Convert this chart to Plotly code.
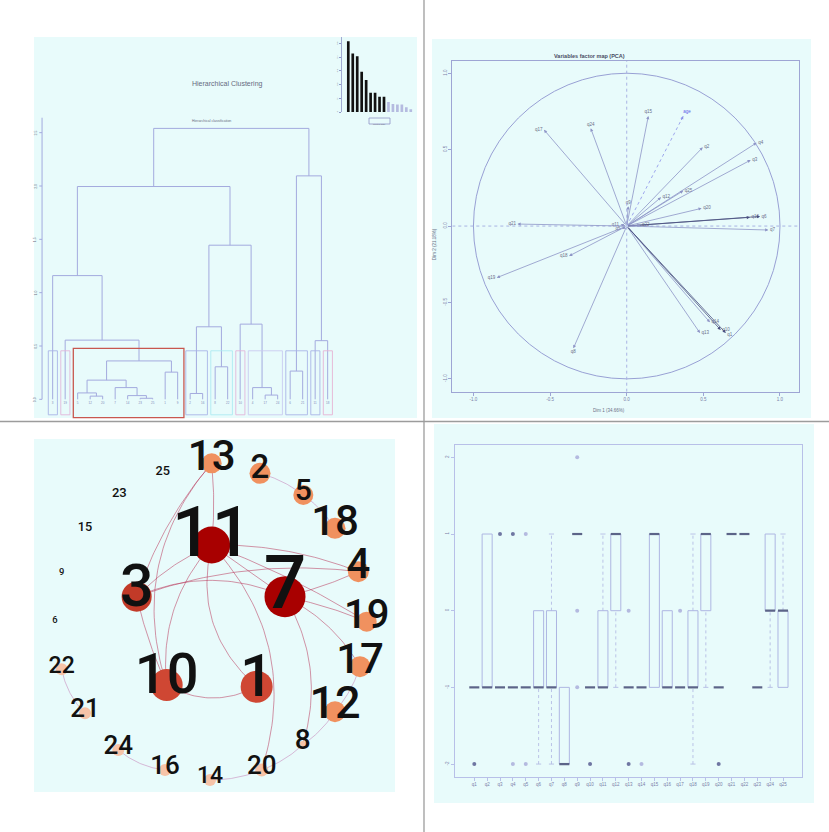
import numpy as np
import plotly.graph_objects as go

W, H = 829, 832
def fx(p): return p / W
def fy(p): return 1 - p / H

CYAN = "#e8fbfb"
DLINE = "#a3aade"
TXT = "#6b6f86"
FONT = "Liberation Sans"

# ---------------- data: hierarchical clustering ----------------
leaf_labels = ["3","19","5","12","20","7","14","23","25","1","9","2","16","8","22","10","4","17","24","6","21","11","18"]
merge_left  = [3, 2, 7, 6, 5, 24, 9, 28, 1, 0, 11, 13, 33, 17, 16, 15, 35, 32, 19, 21, 41, 40]
merge_right = [4, 23, 8, 25, 26, 27, 10, 29, 30, 31, 12, 14, 34, 18, 36, 37, 38, 39, 20, 22, 42, 43]
merge_height = [0.03, 0.06, 0.01, 0.035, 0.11, 0.18, 0.255, 0.36, 0.555, 1.16, 0.055, 0.305,
                0.68, 0.04, 0.11, 0.705, 1.445, 1.995, 0.265, 0.55, 2.095, 2.54]
cluster_first = [0, 1, 2, 11, 13, 15, 16, 19, 21, 22]
cluster_last  = [0, 1, 10, 12, 14, 15, 18, 20, 21, 22]
dendro_ticks = [0, 0.5, 1.0, 1.5, 2.0, 2.5]
dendro_ticklabels = ["0.0", "0.5", "1.0", "1.5", "2.0", "2.5"]

inertia_gain = [0.517, 0.427, 0.407, 0.295, 0.234, 0.141, 0.141, 0.112, 0.112,
                0.073, 0.059, 0.054, 0.054, 0.034, 0.020]
n_dark_bars = 9
inset_ticks = [0, 0.1, 0.2, 0.3, 0.4, 0.5]

# ---------------- data: PCA variables ----------------
pca_vars = ["q17","q24","q15","q2","q4","q3","q25","q12","q9","q20","q16","q6","q7",
            "q21","q18","q19","q8","q13","q14","q10","q1","q11","q5","q22"]
dim1 = [-0.54,-0.235,0.141,0.496,0.848,0.809,0.369,0.224,0.01,0.489,0.804,0.87,0.924,
        -0.713,-0.376,-0.848,-0.348,0.478,0.543,0.613,0.646,-0.04,-0.03,0.09]
dim2 = [0.63,0.64,0.72,0.515,0.545,0.432,0.231,0.188,0.13,0.116,0.057,0.063,-0.026,
        0.013,-0.196,-0.338,-0.80,-0.70,-0.63,-0.68,-0.70,0.01,-0.02,0.005]
sup_var = "age"
sup_dim1, sup_dim2 = 0.369, 0.72
dark_vars = {"q16", "q6", "q1", "q10"}
pca_ticks = [-1.0, -0.5, 0.0, 0.5, 1.0]
pca_ticklabels = ["-1.0", "-0.5", "0.0", "0.5", "1.0"]

# ---------------- data: network ----------------
node_id = [str(i) for i in range(1, 26)]
node_x = [680,690,320,985,820,75,765,818,95,410,545,915,545,540,165,405,990,915,1010,695,165,95,268,265,398]
node_y = [770,130,500,425,195,575,500,945,430,765,345,845,100,1050,298,1020,710,295,575,1020,850,718,195,960,128]
node_class = ["mid","orange","mid2","orange","orange","none","dark","pale","none","mid","dark","orange",
              "orange","pale","none","pale","orange","orange","orange","pale","pale","pale","none","pale","none"]
strong_edges = [(11,13),(13,3),(13,10),(11,4),(11,3),(3,7),(3,4),(11,7),(11,19),(11,10),(11,1),
                (11,20),(10,1),(3,10),(7,19),(7,17),(7,8),(7,4)]
weak_edges = [(2,5),(5,18),(17,12),(12,8),(8,20),(20,14),(16,24),(22,21)]

# ---------------- data: boxplot ----------------
questions = ["q%d" % i for i in range(1, 26)]
whisk_lo = [-1,-1,-1,-1,-1,-2,-2,-2, 1,-1,-1,-1,-1,-1,-1,-1,-1,-2,-1,-1, 1, 1,-1,-1,-1]
hinge_lo = [-1,-1,-1,-1,-1,-1,-1,-2, 1,-1,-1, 0,-1,-1,-1,-1,-1,-1, 0,-1, 1, 1,-1, 0,-1]
medians  = [-1,-1,-1,-1,-1,-1,-1,-2, 1,-1,-1, 1,-1,-1, 1,-1,-1,-1, 1,-1, 1, 1,-1, 0, 0]
hinge_hi = [-1, 1,-1,-1,-1, 0, 0,-1, 1,-1, 0, 1,-1,-1, 1, 0,-1, 0, 1,-1, 1, 1,-1, 1, 0]
whisk_hi = [-1, 1,-1,-1,-1, 0, 1,-1, 1,-1, 1, 1,-1,-1, 1, 0,-1, 1, 1,-1, 1, 1,-1, 1, 1]
out_q   = [1, 3, 4, 4, 5, 5, 9, 9, 9, 10, 13, 13, 14, 17, 20]
out_val = [-2, 1, 1, -2, 1, -2, 2, 0, -1, -2, 0, -2, -2, 0, -2]
out_n   = [3, 2, 3, 1, 1, 1, 1, 1, 1, 3, 1, 3, 1, 1, 3]
box_yticks = [-2, -1, 0, 1, 2]

fig = go.Figure()
shapes, annos = [], []

# panel backgrounds
for (x0, y0, x1, y1) in [(34, 37, 417, 418), (432, 39, 811, 418), (34, 439, 395, 792), (434, 424, 814, 803)]:
    shapes.append(dict(type="rect", xref="paper", yref="paper", x0=fx(x0), x1=fx(x1), y0=fy(y1), y1=fy(y0),
                       fillcolor=CYAN, line_width=0, layer="below"))
shapes.append(dict(type="line", xref="paper", yref="paper", x0=fx(424), x1=fx(424), y0=0, y1=1,
                   line=dict(color="#9c9c9c", width=1.3)))
shapes.append(dict(type="line", xref="paper", yref="paper", x0=0, x1=1, y0=fy(421.5), y1=fy(421.5),
                   line=dict(color="#9c9c9c", width=1.3)))

# ================= TL: dendrogram =================
n_leaves = len(leaf_labels)
pos = list(range(n_leaves)); hgt = [0.0] * n_leaves
dx, dy = [], []
for a, b, h in zip(merge_left, merge_right, merge_height):
    dx += [pos[a], pos[a], pos[b], pos[b], None]
    dy += [hgt[a], h, h, hgt[b], None]
    pos.append((pos[a] + pos[b]) / 2); hgt.append(h)
fig.add_trace(go.Scatter(x=dx, y=dy, mode="lines", line=dict(color=DLINE, width=1),
                         xaxis="x", yaxis="y", hoverinfo="skip", showlegend=False))
fig.add_trace(go.Scatter(x=list(range(n_leaves)), y=[-0.035] * n_leaves, mode="text", text=leaf_labels,
                         textfont=dict(size=3, color="#8088b8", family=FONT),
                         xaxis="x", yaxis="y", hoverinfo="skip", showlegend=False))
clu_colors = ["#a9b4e6", "#e2b6da", "#c8574f", "#a9b4e6", "#aeeaf2", "#e2b6da", "#c9cbf1", "#a9b4e6", "#a9b4e6", "#e6b2d4"]
for k, (s, e) in enumerate(zip(cluster_first, cluster_last)):
    red = (e - s > 5)
    shapes.append(dict(type="rect", xref="x", yref="y",
                       x0=s - 0.35, x1=e + (0.5 if red else 0.38),
                       y0=-0.172 if red else -0.145, y1=0.478 if red else 0.455,
                       line=dict(color=clu_colors[k], width=1.3 if red else 0.9), fillcolor="rgba(0,0,0,0)"))
ax_x = -0.85
tx, ty = [ax_x, ax_x, None], [0, 2.64, None]
for t in dendro_ticks:
    tx += [ax_x, ax_x - 0.22, None]; ty += [t, t, None]
fig.add_trace(go.Scatter(x=tx, y=ty, mode="lines", line=dict(color=DLINE, width=1),
                         xaxis="x", yaxis="y", hoverinfo="skip", showlegend=False))
for t, lab in zip(dendro_ticks, dendro_ticklabels):
    annos.append(dict(x=ax_x - 0.5, y=t, xref="x", yref="y", text=lab, showarrow=False, textangle=-90,
                      font=dict(size=3.5, color=TXT, family=FONT)))
annos.append(dict(x=fx(190), y=fy(78), xref="paper", yref="paper", text="Hierarchical Clustering",
                  showarrow=False, font=dict(size=7, color="#666a80", family=FONT)))
annos.append(dict(x=fx(190), y=fy(117), xref="paper", yref="paper", text="Hierarchical classification",
                  showarrow=False, font=dict(size=3.5, color="#666a80", family=FONT)))

bar_cols = ["#111111"] * n_dark_bars + ["#b5bbe0"] * (len(inertia_gain) - n_dark_bars)
fig.add_trace(go.Bar(x=list(range(1, len(inertia_gain) + 1)), y=inertia_gain, marker=dict(color=bar_cols, line_width=0),
                     width=0.6, xaxis="x2", yaxis="y2", hoverinfo="skip", showlegend=False))
shapes.append(dict(type="rect", xref="paper", yref="paper", x0=fx(369), x1=fx(390), y0=fy(124), y1=fy(118),
                   line=dict(color="#8f96c8", width=0.8)))
annos.append(dict(x=fx(379.5), y=fy(121), xref="paper", yref="paper", text="inertia gain", showarrow=False,
                  font=dict(size=2.5, color=TXT, family=FONT)))

# ================= TR: PCA =================
PCOL = "#8d94c6"
for v, a, b in zip(pca_vars, dim1, dim2):
    col = "#4a5080" if v in dark_vars else PCOL
    annos.append(dict(x=a, y=b, ax=0, ay=0, xref="x3", yref="y3", axref="x3", ayref="y3", text="",
                      showarrow=True, arrowhead=2, arrowsize=0.8, arrowwidth=0.8, arrowcolor=col))
fig.add_trace(go.Scatter(x=[0, sup_dim1], y=[0, sup_dim2], mode="lines", line=dict(color="#8a90e8", width=0.8, dash="dot"),
                         xaxis="x3", yaxis="y3", hoverinfo="skip", showlegend=False))
annos.append(dict(x=sup_dim1, y=sup_dim2, ax=sup_dim1 * 0.95, ay=sup_dim2 * 0.95, xref="x3", yref="y3",
                  axref="x3", ayref="y3", text="", showarrow=True, arrowhead=2, arrowsize=0.8,
                  arrowwidth=0.8, arrowcolor="#8a90e8"))
label_pos_override = {"q1": "bottom right"}
lx, ly, lpos = [], [], []
for v, a, b in zip(pca_vars, dim1, dim2):
    th = np.arctan2(b, a)
    if np.cos(th) > 0.5:
        lx.append(a + 0.01); ly.append(b); lpos.append("middle right")
    elif np.cos(th) < -0.5:
        lx.append(a - 0.01); ly.append(b); lpos.append("middle left")
    elif np.sin(th) > 0:
        lx.append(a); ly.append(b + 0.01); lpos.append("top center")
    else:
        lx.append(a); ly.append(b - 0.01); lpos.append("bottom center")
    if v in label_pos_override:
        lpos[-1] = label_pos_override[v]
fig.add_trace(go.Scatter(x=lx, y=ly, mode="text", text=pca_vars, textposition=lpos,
                         textfont=dict(size=4.5, color="#6a6e88", family=FONT),
                         xaxis="x3", yaxis="y3", hoverinfo="skip", showlegend=False))
fig.add_trace(go.Scatter(x=[sup_dim1], y=[sup_dim2 + 0.01], mode="text", text=[sup_var], textposition="top right",
                         textfont=dict(size=4.5, color="#5a5ae8", family=FONT),
                         xaxis="x3", yaxis="y3", hoverinfo="skip", showlegend=False))
shapes.append(dict(type="circle", xref="x3", yref="y3", x0=-1, x1=1, y0=-1, y1=1,
                   line=dict(color="#98a0d4", width=1)))
shapes.append(dict(type="line", xref="x3", yref="y3", x0=0, x1=0, y0=-1.084, y1=1.082,
                   line=dict(color="#a2aae0", width=0.9, dash="dot")))
shapes.append(dict(type="line", xref="x3", yref="y3", x0=-1.138, x1=1.124, y0=0, y1=0,
                   line=dict(color="#a2aae0", width=0.9, dash="dot")))
annos.append(dict(x=fx(626.7), y=fy(50.7), xref="paper", yref="paper", text="<b>Variables factor map (PCA)</b>",
                  showarrow=False, font=dict(size=5.5, color="#4a4d63", family=FONT)))
annos.append(dict(x=fx(626.7), y=fy(410), xref="paper", yref="paper", text="Dim 1 (34.66%)",
                  showarrow=False, font=dict(size=4.5, color=TXT, family=FONT)))
annos.append(dict(x=fx(434), y=fy(226), xref="paper", yref="paper", text="Dim 2 (21.18%)", textangle=-90,
                  showarrow=False, font=dict(size=4.5, color=TXT, family=FONT)))

# ================= BL: network =================
class_color = {"dark": "#a80000", "mid": "#cf4733", "mid2": "#c23a28", "orange": "#f0915f", "pale": "#f6c3a8",
               "none": "rgba(0,0,0,0)"}
node_diam = [32, 21, 30, 21, 20, 0, 41, 8, 0, 32, 37, 21, 20, 12, 0, 12, 21, 21, 20, 13, 12, 12, 0, 12, 0]
label_size = [59, 33, 59, 42, 30, 9.4, 75, 28, 9.4, 56, 70, 45, 42, 23, 12.7, 26, 42, 42, 40, 26, 26, 23, 13, 26, 12.7]
strong_bend = [0.05, 0.1, 0.28, -0.1, 0.1, -0.22, -0.12, 0.0, -0.05, 0.22, 0.3, -0.29, 0.27, 0.05, -0.05, -0.15, -0.22, 0.05]
weak_bend = [-0.1, -0.1, -0.1, -0.1, -0.1, -0.1, -0.15, 0.15]
idx = {nid: i for i, nid in enumerate(node_id)}

def curve(a, b, bend, n=40):
    x0, y0 = node_x[idx[str(a)]], node_y[idx[str(a)]]
    x1, y1 = node_x[idx[str(b)]], node_y[idx[str(b)]]
    cx = (x0 + x1) / 2 + bend * (-(y1 - y0))
    cy = (y0 + y1) / 2 + bend * (x1 - x0)
    t = np.linspace(0, 1, n)
    xs = (1 - t) ** 2 * x0 + 2 * (1 - t) * t * cx + t ** 2 * x1
    ys = (1 - t) ** 2 * y0 + 2 * (1 - t) * t * cy + t ** 2 * y1
    return list(xs) + [None], list(ys) + [None]

ex, ey = [], []
for (a, b), bd in zip(strong_edges, strong_bend):
    cx_, cy_ = curve(a, b, bd)
    ex += cx_; ey += cy_
fig.add_trace(go.Scatter(x=ex, y=ey, mode="lines", line=dict(color="rgba(185,60,95,0.55)", width=1),
                         xaxis="x4", yaxis="y4", hoverinfo="skip", showlegend=False))
wx, wy = [], []
for (a, b), bd in zip(weak_edges, weak_bend):
    cx_, cy_ = curve(a, b, bd)
    wx += cx_; wy += cy_
fig.add_trace(go.Scatter(x=wx, y=wy, mode="lines", line=dict(color="rgba(200,140,190,0.6)", width=1),
                         xaxis="x4", yaxis="y4", hoverinfo="skip", showlegend=False))
fig.add_trace(go.Scatter(x=node_x, y=node_y, mode="markers",
                         marker=dict(size=node_diam, color=[class_color[c] for c in node_class], line_width=0,
                                     opacity=1),
                         xaxis="x4", yaxis="y4", hoverinfo="skip", showlegend=False))
lab_y = [y - 0.3 * s for y, s in zip(node_y, label_size)]
fig.add_trace(go.Scatter(x=node_x, y=lab_y, mode="text", text=node_id,
                         textfont=dict(size=label_size, color="#111111", family="Roboto", weight=500),
                         xaxis="x4", yaxis="y4", hoverinfo="skip", showlegend=False, cliponaxis=False))

# ================= BR: boxplot =================
BOXC = "#aeb6e2"
hw, sw = 0.39, 0.2
bx, by, mx, my, wxs, wys, sx, sy = [], [], [], [], [], [], [], []
for i in range(len(questions)):
    p = i + 1
    if hinge_hi[i] != hinge_lo[i]:
        bx += [p - hw, p + hw, p + hw, p - hw, p - hw, None]
        by += [hinge_lo[i], hinge_lo[i], hinge_hi[i], hinge_hi[i], hinge_lo[i], None]
    mx += [p - hw, p + hw, None]; my += [medians[i], medians[i], None]
    if whisk_lo[i] < hinge_lo[i]:
        wxs += [p, p, None]; wys += [whisk_lo[i], hinge_lo[i], None]
        sx += [p - sw, p + sw, None]; sy += [whisk_lo[i], whisk_lo[i], None]
    if whisk_hi[i] > hinge_hi[i]:
        wxs += [p, p, None]; wys += [hinge_hi[i], whisk_hi[i], None]
        sx += [p - sw, p + sw, None]; sy += [whisk_hi[i], whisk_hi[i], None]
fig.add_trace(go.Scatter(x=wxs, y=wys, mode="lines", line=dict(color="#b4bce4", width=0.9, dash="dot"),
                         xaxis="x5", yaxis="y5", hoverinfo="skip", showlegend=False))
fig.add_trace(go.Scatter(x=sx, y=sy, mode="lines", line=dict(color="#b4bce4", width=0.9),
                         xaxis="x5", yaxis="y5", hoverinfo="skip", showlegend=False))
fig.add_trace(go.Scatter(x=bx, y=by, mode="lines", line=dict(color=BOXC, width=1),
                         xaxis="x5", yaxis="y5", hoverinfo="skip", showlegend=False))
fig.add_trace(go.Scatter(x=mx, y=my, mode="lines", line=dict(color="#5c6488", width=2.2),
                         xaxis="x5", yaxis="y5", hoverinfo="skip", showlegend=False))
fig.add_trace(go.Scatter(x=out_q, y=out_val, mode="markers",
                         marker=dict(size=4, color=["#6f76a2" if n > 1 else "#b4bae0" for n in out_n],
                                     symbol="circle"),
                         xaxis="x5", yaxis="y5", hoverinfo="skip", showlegend=False, cliponaxis=False))

# ================= layout =================
def blank(domain, rng):
    return dict(domain=domain, range=rng, visible=False, fixedrange=True)

tickf = dict(size=4.5, color="#7a80a8", family=FONT)
layout = dict(
    width=W, height=H, margin=dict(l=0, r=0, t=0, b=0),
    paper_bgcolor="white", plot_bgcolor="rgba(0,0,0,0)", showlegend=False,
    xaxis=blank([fx(27.67), fx(340.17)], [-2, 23]),
    yaxis=blank([fy(426), fy(106)], [-0.25, 2.75]),
    xaxis2=blank([fx(341.6), fx(413.9)], [-0.5, 15.7]),
    yaxis2=dict(domain=[fy(112), fy(36.8)], range=[0, 0.55], anchor="x2", showline=True, linecolor="#8f96c8",
                linewidth=0.8, ticks="outside", ticklen=2, tickcolor="#8f96c8", tickvals=inset_ticks,
                ticktext=[str(t) for t in inset_ticks], tickangle=-90, tickfont=dict(size=2.5, color=TXT),
                showgrid=False, zeroline=False),
    xaxis3=dict(domain=[fx(452.3), fx(799)], range=[-1.138, 1.124], anchor="y3", showline=True, mirror=True,
                linecolor="#9ea5d4", linewidth=1, ticks="outside", ticklen=3, tickcolor="#9ea5d4",
                tickvals=pca_ticks, ticktext=pca_ticklabels, tickfont=tickf, showgrid=False, zeroline=False),
    yaxis3=dict(domain=[fy(391.7), fy(60.7)], range=[-1.084, 1.082], anchor="x3", showline=True, mirror=True,
                linecolor="#9ea5d4", linewidth=1, ticks="outside", ticklen=3, tickcolor="#9ea5d4",
                tickvals=pca_ticks, ticktext=pca_ticklabels, tickangle=-90, tickfont=tickf,
                showgrid=False, zeroline=False),
    xaxis4=blank([fx(30), fx(410)], [0, 1140]),
    yaxis4=blank([fy(810), fy(430)], [1140, 0]),
    xaxis5=dict(domain=[fx(455), fx(802.3)], range=[-0.5, 26.5], anchor="y5", showline=True, mirror=True,
                linecolor="#b8c0e8", linewidth=1, ticks="outside", ticklen=3, tickcolor="#b8c0e8",
                tickvals=list(range(1, 26)), ticktext=questions, tickfont=tickf, showgrid=False, zeroline=False),
    yaxis5=dict(domain=[fy(776.7), fy(445)], range=[-2.165, 2.161], anchor="x5", showline=True, mirror=True,
                linecolor="#b8c0e8", linewidth=1, ticks="outside", ticklen=3, tickcolor="#b8c0e8",
                tickvals=box_yticks, ticktext=[str(t) for t in box_yticks], tickangle=-90, tickfont=tickf,
                showgrid=False, zeroline=False),
    shapes=shapes, annotations=annos,
)
layout["xaxis"]["anchor"] = "y"; layout["yaxis"]["anchor"] = "x"
layout["xaxis2"]["anchor"] = "y2"
layout["xaxis4"]["anchor"] = "y4"; layout["yaxis4"]["anchor"] = "x4"
fig.update_layout(**layout)
fig.write_html("out.html", config={"displayModeBar": False, "staticPlot": True},
               post_script="document.body.style.margin='0';")
